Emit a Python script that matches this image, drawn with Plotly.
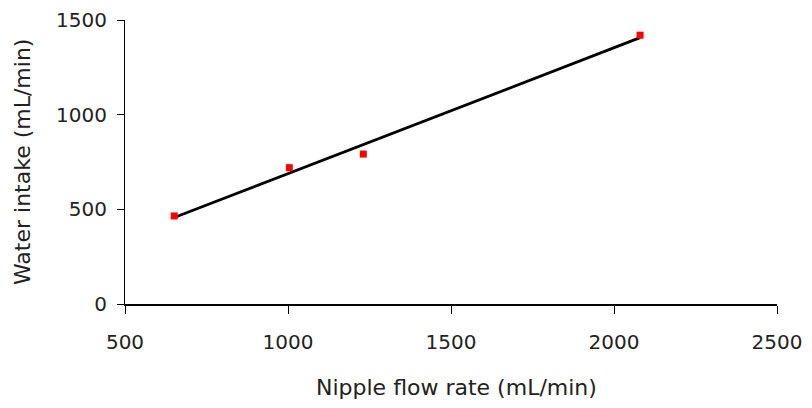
import numpy as np
import plotly.graph_objects as go

flow_rate = [651, 1004, 1231, 2080]
water_intake = [465, 720, 792, 1420]
x_ticks = [500, 1000, 1500, 2000, 2500]
y_ticks = [0, 500, 1000, 1500]

slope, intercept = np.polyfit(flow_rate, water_intake, 1)
fit_x = [min(flow_rate), max(flow_rate)]
fit_y = [slope * v + intercept for v in fit_x]

FONT = "DejaVu Sans"

fig = go.Figure()
fig.add_trace(go.Scatter(x=fit_x, y=fit_y, mode="lines",
                         line=dict(color="black", width=2.8), showlegend=False))
fig.add_trace(go.Scatter(x=flow_rate, y=water_intake, mode="markers",
                         marker=dict(symbol="square", size=7, color="#ff0000", line=dict(width=0)),
                         showlegend=False))

# page body has an 8px margin, so the figure is sized to fit inside it
fig.update_layout(
    width=796, height=392,
    margin=dict(l=117, r=27, t=12, b=96),
    paper_bgcolor="white", plot_bgcolor="white",
    font=dict(family=FONT, size=20, color="#222"),
    xaxis=dict(range=[500, 2500], tickvals=x_ticks, showgrid=False, zeroline=False,
               automargin=False,
               showline=True, linecolor="black", linewidth=1.5,
               ticks="outside", ticklen=8, tickcolor="black", tickwidth=1,
               ticklabelstandoff=11,
               tickfont=dict(family=FONT, size=20, color="#222"),
               title=dict(text="")),
    yaxis=dict(range=[0, 1500], tickvals=y_ticks, showgrid=False, zeroline=False,
               automargin=False,
               showline=True, linecolor="black", linewidth=1,
               ticks="outside", ticklen=7, tickcolor="black", tickwidth=1,
               ticklabelstandoff=6,
               tickfont=dict(family=FONT, size=20, color="#222"),
               title=dict(text="")),
)

fig.add_annotation(text="Nipple flow rate (mL/min)", xref="paper", yref="paper",
                   x=0.508, y=-0.294, xanchor="center", yanchor="middle", showarrow=False,
                   font=dict(family=FONT, size=22, color="#222"))
fig.add_annotation(text="Water intake (mL/min)", xref="paper", yref="paper",
                   x=-0.158, y=0.5, xanchor="center", yanchor="middle", showarrow=False,
                   textangle=-90, font=dict(family=FONT, size=22, color="#222"))

fig.write_html("out.html")
